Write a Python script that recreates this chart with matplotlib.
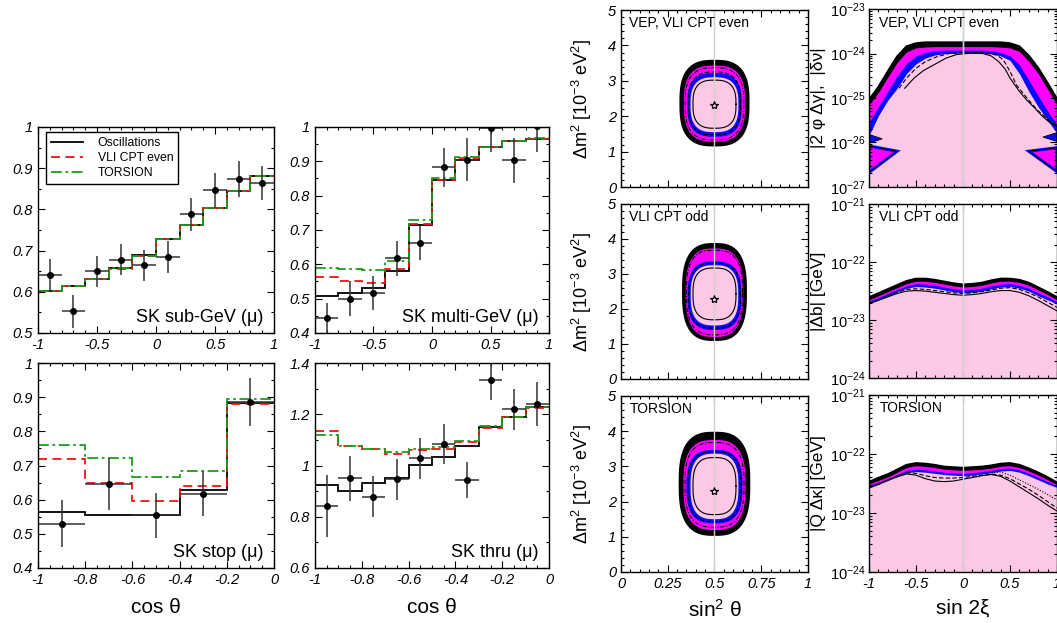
import numpy as np
import matplotlib
matplotlib.use("Agg")
import matplotlib.pyplot as plt
from matplotlib.lines import Line2D
from matplotlib.ticker import MultipleLocator, LogLocator, FuncFormatter, NullFormatter

plt.rcParams["font.family"] = ["Liberation Sans", "DejaVu Sans"]
plt.rcParams["mathtext.fontset"] = "custom"
plt.rcParams["mathtext.rm"] = "Liberation Sans"
plt.rcParams["mathtext.it"] = "Liberation Sans:italic"
plt.rcParams["axes.linewidth"] = 1.0

red = "#f01414"
green = "#1c9c1c"
magenta = "#ff00ff"
blue = "#0a0aff"
pink = "#fcc8e6"
gray = "#d0d0d0"

# ---------------- zenith angle distributions ----------------
edges_full = [-1.0, -0.8, -0.6, -0.4, -0.2, 0.0, 0.2, 0.4, 0.6, 0.8, 1.0]
centers_full = [-0.9, -0.7, -0.5, -0.3, -0.1, 0.1, 0.3, 0.5, 0.7, 0.9]

subgev_osc = [0.602, 0.613, 0.632, 0.657, 0.689, 0.727, 0.763, 0.804, 0.844, 0.881]
subgev_vli = [0.602, 0.613, 0.631, 0.656, 0.687, 0.727, 0.763, 0.804, 0.844, 0.882]
subgev_tor = [0.602, 0.613, 0.632, 0.657, 0.688, 0.727, 0.763, 0.804, 0.844, 0.882]
subgev_data = [0.640, 0.553, 0.650, 0.678, 0.664, 0.684, 0.788, 0.846, 0.873, 0.864]
subgev_err = [0.040, 0.040, 0.038, 0.038, 0.038, 0.039, 0.040, 0.043, 0.044, 0.042]

multigev_osc = [0.509, 0.517, 0.530, 0.580, 0.715, 0.845, 0.905, 0.942, 0.958, 0.965]
multigev_vli = [0.563, 0.550, 0.545, 0.587, 0.717, 0.847, 0.909, 0.942, 0.958, 0.965]
multigev_tor = [0.590, 0.585, 0.582, 0.609, 0.729, 0.850, 0.912, 0.943, 0.958, 0.967]
multigev_data = [0.443, 0.500, 0.517, 0.618, 0.662, 0.882, 0.905, 0.998, 0.903, 1.002]
multigev_err = [0.045, 0.050, 0.049, 0.051, 0.050, 0.057, 0.062, 0.070, 0.066, 0.075]

edges_stop = [-1.0, -0.8, -0.6, -0.4, -0.2, 0.0]
centers_stop = [-0.9, -0.7, -0.5, -0.3, -0.1]
stop_osc = [0.563, 0.556, 0.554, 0.629, 0.883]
stop_vli = [0.720, 0.649, 0.597, 0.641, 0.881]
stop_tor = [0.761, 0.721, 0.667, 0.683, 0.895]
stop_data = [0.530, 0.646, 0.554, 0.618, 0.886]
stop_err = [0.070, 0.075, 0.066, 0.065, 0.070]

edges_thru = [-1.0, -0.9, -0.8, -0.7, -0.6, -0.5, -0.4, -0.3, -0.2, -0.1, 0.0]
centers_thru = [-0.95, -0.85, -0.75, -0.65, -0.55, -0.45, -0.35, -0.25, -0.15, -0.05]
thru_osc = [0.924, 0.902, 0.933, 0.953, 1.002, 1.034, 1.076, 1.151, 1.190, 1.229]
thru_vli = [1.134, 1.076, 1.063, 1.043, 1.060, 1.064, 1.090, 1.147, 1.190, 1.226]
thru_tor = [1.119, 1.078, 1.065, 1.052, 1.065, 1.073, 1.097, 1.154, 1.190, 1.229]
thru_data = [0.842, 0.950, 0.879, 0.947, 1.028, 1.084, 0.944, 1.335, 1.220, 1.240]
thru_err = [0.120, 0.087, 0.080, 0.080, 0.080, 0.077, 0.070, 0.080, 0.080, 0.085]

# ---------------- allowed regions in (sin^2 theta, dm^2) ----------------
# filled levels: black, magenta, blue, pink (left edge, bottom, top)
vep_fill_left = [0.317, 0.336, 0.354, 0.372]
vep_fill_bottom = [1.17, 1.28, 1.42, 1.55]
vep_fill_top = [3.57, 3.43, 3.22, 3.10]
odd_fill_left = [0.331, 0.346, 0.356, 0.373]
odd_fill_bottom = [1.11, 1.20, 1.40, 1.53]
odd_fill_top = [3.86, 3.73, 3.36, 3.25]
tor_fill_left = [0.313, 0.334, 0.350, 0.372]
tor_fill_bottom = [1.05, 1.19, 1.38, 1.50]
tor_fill_top = [3.96, 3.75, 3.47, 3.36]
# line contours: dotted, dash-dot, dashed, solid
vep_line_left = [0.328, 0.343, 0.360, 0.385]
vep_line_bottom = [1.24, 1.33, 1.47, 1.66]
vep_line_top = [3.50, 3.37, 3.25, 3.02]
odd_line_left = [0.338, 0.350, 0.362, 0.385]
odd_line_bottom = [1.16, 1.26, 1.45, 1.69]
odd_line_top = [3.80, 3.68, 3.31, 3.17]
tor_line_left = [0.323, 0.342, 0.357, 0.385]
tor_line_bottom = [1.12, 1.27, 1.43, 1.63]
tor_line_top = [3.86, 3.68, 3.42, 3.25]
best_fit_s2 = [0.5, 0.5, 0.5]
best_fit_dm2 = [2.33, 2.28, 2.30]

# ---------------- bounds vs sin 2xi (log10 values) ----------------
xi = [-1.0, -0.9, -0.8, -0.7, -0.6, -0.5, -0.4, -0.3, -0.2, -0.1, 0.0,
      0.1, 0.2, 0.3, 0.4, 0.5, 0.6, 0.7, 0.8, 0.9, 1.0]

vep_black = [-25.05, -24.76, -24.41, -24.07, -23.84, -23.77, -23.75, -23.75, -23.75, -23.75, -23.75,
             -23.75, -23.75, -23.75, -23.75, -23.77, -23.84, -24.05, -24.33, -24.67, -25.03]
vep_magenta = [-25.15, -24.88, -24.53, -24.20, -23.96, -23.87, -23.85, -23.84, -23.84, -23.84, -23.84,
               -23.84, -23.84, -23.84, -23.85, -23.87, -23.95, -24.17, -24.45, -24.80, -25.15]
vep_blue = [-25.55, -25.20, -24.85, -24.50, -24.22, -24.05, -23.97, -23.93, -23.92, -23.92, -23.92,
            -23.92, -23.92, -23.93, -23.97, -24.05, -24.25, -24.60, -24.95, -25.30, -25.60]
vep_pink = [-25.85, -25.40, -25.05, -24.78, -24.45, -24.23, -24.10, -24.03, -24.00, -23.99, -23.98,
            -23.98, -23.99, -24.00, -24.05, -24.15, -24.45, -24.85, -25.20, -25.50, -25.80]
vep_solid_x = [-0.62, -0.52, -0.42, -0.30, -0.18, -0.07, 0.07, 0.20, 0.30, 0.38, 0.45, 0.50,
               0.60, 0.68, 0.76, 0.84, 0.92, 1.00]
vep_solid = [-24.78, -24.55, -24.38, -24.24, -24.10, -24.02, -23.99, -23.99, -24.05, -24.18, -24.35,
             -24.55, -24.85, -25.05, -25.22, -25.40, -25.55, -25.65]
vep_dashed_x = [-0.68, -0.60, -0.50, -0.40, -0.28, -0.14, 0.00, 0.22, 0.36, 0.43, 0.50, 0.57,
                0.68, 0.79, 0.90, 1.00]
vep_dashed = [-24.78, -24.55, -24.33, -24.18, -24.07, -23.99, -23.98, -23.98, -24.03, -24.14, -24.40,
              -24.71, -25.00, -25.27, -25.48, -25.62]
# spikes and islands near |sin 2xi| = 1
spike_left_x = [-1.0, -0.86, -1.0]
spike_left_y = [-25.82, -25.92, -26.02]
island_left_x = [-1.0, -0.70, -1.0]
island_left_y = [-26.08, -26.20, -26.68]
spike_right_x = [1.0, 0.85, 1.0]
spike_right_y = [-25.78, -25.88, -25.98]
island_right_x = [1.0, 0.70, 1.0]
island_right_y = [-26.12, -26.20, -26.66]

odd_black = [-22.61, -22.54, -22.47, -22.40, -22.33, -22.29, -22.29, -22.31, -22.34, -22.37, -22.39,
             -22.38, -22.36, -22.32, -22.29, -22.29, -22.31, -22.36, -22.44, -22.52, -22.61]
odd_magenta = [-22.65, -22.58, -22.51, -22.44, -22.37, -22.33, -22.33, -22.35, -22.38, -22.41, -22.43,
               -22.42, -22.40, -22.36, -22.33, -22.33, -22.35, -22.40, -22.48, -22.56, -22.65]
odd_blue = [-22.67, -22.61, -22.54, -22.47, -22.41, -22.37, -22.38, -22.40, -22.43, -22.46, -22.48,
            -22.47, -22.45, -22.41, -22.38, -22.37, -22.40, -22.45, -22.53, -22.60, -22.68]
odd_pink = [-22.70, -22.64, -22.58, -22.51, -22.45, -22.42, -22.43, -22.45, -22.48, -22.51, -22.53,
            -22.52, -22.50, -22.46, -22.43, -22.42, -22.45, -22.50, -22.58, -22.65, -22.72]
odd_solid = [-22.72, -22.66, -22.60, -22.54, -22.50, -22.49, -22.50, -22.52, -22.54, -22.56, -22.57,
             -22.56, -22.54, -22.51, -22.49, -22.49, -22.52, -22.58, -22.66, -22.75, -22.84]
odd_dashed = [-22.71, -22.65, -22.58, -22.52, -22.47, -22.46, -22.47, -22.49, -22.51, -22.53, -22.54,
              -22.53, -22.51, -22.48, -22.45, -22.44, -22.47, -22.53, -22.60, -22.69, -22.78]

tor_black = [-22.48, -22.41, -22.35, -22.27, -22.19, -22.16, -22.17, -22.19, -22.22, -22.23, -22.24,
             -22.23, -22.22, -22.20, -22.17, -22.16, -22.19, -22.25, -22.32, -22.40, -22.49]
tor_magenta = [-22.51, -22.45, -22.39, -22.31, -22.23, -22.20, -22.21, -22.23, -22.26, -22.27, -22.28,
               -22.27, -22.26, -22.24, -22.21, -22.20, -22.23, -22.29, -22.36, -22.44, -22.52]
tor_blue = [-22.53, -22.48, -22.42, -22.35, -22.28, -22.26, -22.27, -22.29, -22.31, -22.32, -22.33,
            -22.32, -22.30, -22.28, -22.25, -22.24, -22.27, -22.33, -22.40, -22.47, -22.54]
tor_pink = [-22.56, -22.51, -22.45, -22.38, -22.32, -22.30, -22.31, -22.33, -22.35, -22.36, -22.37,
            -22.36, -22.34, -22.32, -22.29, -22.28, -22.31, -22.37, -22.44, -22.51, -22.57]
tor_solid = [-22.58, -22.52, -22.45, -22.39, -22.34, -22.36, -22.42, -22.46, -22.47, -22.46, -22.43,
             -22.40, -22.37, -22.35, -22.38, -22.46, -22.56, -22.66, -22.76, -22.87, -22.97]
tor_dashed = [-22.57, -22.51, -22.44, -22.37, -22.32, -22.33, -22.37, -22.40, -22.41, -22.41, -22.40,
              -22.38, -22.36, -22.34, -22.36, -22.42, -22.51, -22.60, -22.70, -22.81, -22.92]
tor_dotted_x = [0.3, 0.4, 0.5, 0.6, 0.7, 0.8, 0.9, 1.0]
tor_dotted = [-22.32, -22.31, -22.36, -22.44, -22.52, -22.60, -22.69, -22.78]


fig = plt.figure(figsize=(10.57, 6.23), dpi=100)
gfmt = FuncFormatter(lambda v, p: "%g" % round(v, 3))


def style(ax, size=10.5):
    ax.tick_params(which="both", direction="in", top=True, right=True)
    ax.tick_params(which="major", length=5, width=0.8, labelsize=size)
    ax.tick_params(which="minor", length=2.5, width=0.8)
    for lab in ax.get_xticklabels() + ax.get_yticklabels():
        lab.set_fontstyle("italic")


def zenith(rect, edges, osc, vli, tor, xc, yd, ye, hw, ylim, xmaj, xmin, ymaj, ymin, label):
    ax = fig.add_axes(rect)
    ax.stairs(osc, edges, baseline=None, color="black", lw=1.3)
    ax.stairs(vli, edges, baseline=None, color=red, lw=1.3, ls=(0, (5, 3)))
    ax.stairs(tor, edges, baseline=None, color=green, lw=1.3, ls=(0, (6, 2, 1.5, 2)))
    ax.errorbar(xc, yd, xerr=hw, yerr=ye, fmt="o", ms=4, color="black",
                ecolor="#333333", elinewidth=1.1, capsize=0)
    ax.set_xlim(edges[0], edges[-1])
    ax.set_ylim(*ylim)
    ax.xaxis.set_major_locator(MultipleLocator(xmaj))
    ax.xaxis.set_minor_locator(MultipleLocator(xmin))
    ax.yaxis.set_major_locator(MultipleLocator(ymaj))
    ax.yaxis.set_minor_locator(MultipleLocator(ymin))
    ax.xaxis.set_major_formatter(gfmt)
    ax.yaxis.set_major_formatter(gfmt)
    ax.text(0.955, 0.035, label, transform=ax.transAxes, ha="right", va="bottom", fontsize=13)
    style(ax)
    return ax


ax1 = zenith([0.036, 0.4655, 0.2233, 0.3307], edges_full, subgev_osc, subgev_vli, subgev_tor,
             centers_full, subgev_data, subgev_err, 0.1, (0.5, 1.0), 0.5, 0.1, 0.1, 0.05,
             "SK sub-GeV (\u03bc)")
leg_handles = [Line2D([], [], color="black", lw=1.3),
               Line2D([], [], color=red, lw=1.3, ls=(0, (5, 3))),
               Line2D([], [], color=green, lw=1.3, ls=(0, (6, 2, 1.5, 2)))]
ax1.legend(leg_handles, ["Oscillations", "VLI CPT even", "TORSION"], loc="upper left",
           bbox_to_anchor=(0.035, 0.975), fontsize=8.8, frameon=True, fancybox=False,
           edgecolor="black", framealpha=1, borderpad=0.4, labelspacing=0.25,
           handlelength=2.6, handletextpad=1.2, borderaxespad=0)
zenith([0.298, 0.4655, 0.2214, 0.3307], edges_full, multigev_osc, multigev_vli, multigev_tor,
       centers_full, multigev_data, multigev_err, 0.1, (0.4, 1.0), 0.5, 0.1, 0.1, 0.05,
       "SK multi-GeV (\u03bc)")
ax3 = zenith([0.036, 0.0883, 0.2233, 0.329], edges_stop, stop_osc, stop_vli, stop_tor,
             centers_stop, stop_data, stop_err, 0.1, (0.4, 1.0), 0.2, 0.05, 0.1, 0.05,
             "SK stop (\u03bc)")
ax4 = zenith([0.298, 0.0883, 0.2214, 0.329], edges_thru, thru_osc, thru_vli, thru_tor,
             centers_thru, thru_data, thru_err, 0.05, (0.6, 1.4), 0.2, 0.05, 0.2, 0.1,
             "SK thru (\u03bc)")
for ax in (ax3, ax4):
    ax.set_xlabel("cos \u03b8", fontsize=15, labelpad=8)


def squircle(x0, x1, y0, y1, p=2.8, n=300):
    t = np.linspace(0, 2 * np.pi, n)
    c, s = np.cos(t), np.sin(t)
    xs = 0.5 * (x0 + x1) + 0.5 * (x1 - x0) * np.sign(c) * np.abs(c) ** (2 / p)
    ys = 0.5 * (y0 + y1) + 0.5 * (y1 - y0) * np.sign(s) * np.abs(s) ** (2 / p)
    return xs, ys


def contour_panel(rect, fl, fb, ft, ll, lb, lt, bx, by, label, bottom):
    ax = fig.add_axes(rect)
    for k, col in enumerate(["black", magenta, blue, pink]):
        xs, ys = squircle(fl[k], 1 - fl[k], fb[k], ft[k])
        ax.fill(xs, ys, facecolor=col, edgecolor="black" if k == 0 else col,
                lw=1.2 if k == 0 else 0)
    for k, ls in enumerate([(0, (1, 1.5)), (0, (4, 1.5, 1, 1.5)), (0, (4, 2)), "-"]):
        xs, ys = squircle(ll[k], 1 - ll[k], lb[k], lt[k])
        ax.plot(xs, ys, color="black", lw=0.8, ls=ls)
    ax.axvline(0.5, color=gray, lw=1.0)
    ax.plot([bx], [by], marker="*", ms=6, mfc=pink, mec="black", mew=0.9, ls="none")
    ax.set_xlim(0, 1)
    ax.set_ylim(0, 5)
    ax.xaxis.set_major_locator(MultipleLocator(0.25))
    ax.xaxis.set_minor_locator(MultipleLocator(0.05))
    ax.yaxis.set_major_locator(MultipleLocator(1))
    ax.yaxis.set_minor_locator(MultipleLocator(0.2))
    ax.xaxis.set_major_formatter(gfmt)
    ax.yaxis.set_major_formatter(gfmt)
    if not bottom:
        ax.xaxis.set_major_formatter(NullFormatter())
    ax.set_ylabel("\u0394m$^{2}$ [10$^{-3}$ eV$^{2}$]", fontsize=13)
    ax.yaxis.set_label_coords(-0.145, 0.5)
    ax.text(0.045, 0.965, label, transform=ax.transAxes, ha="left", va="top", fontsize=10)
    style(ax, 10.5)
    return ax


contour_panel([0.5875, 0.6998, 0.1769, 0.2841], vep_fill_left, vep_fill_bottom, vep_fill_top,
              vep_line_left, vep_line_bottom, vep_line_top, best_fit_s2[0], best_fit_dm2[0],
              "VEP, VLI CPT even", False)
contour_panel([0.5875, 0.3917, 0.1769, 0.2809], odd_fill_left, odd_fill_bottom, odd_fill_top,
              odd_line_left, odd_line_bottom, odd_line_top, best_fit_s2[1], best_fit_dm2[1],
              "VLI CPT odd", False)
axm = contour_panel([0.5875, 0.0819, 0.1769, 0.2825], tor_fill_left, tor_fill_bottom, tor_fill_top,
                    tor_line_left, tor_line_bottom, tor_line_top, best_fit_s2[2], best_fit_dm2[2],
                    "TORSION", True)
axm.set_xlabel("sin$^{2}$ \u03b8", fontsize=15, labelpad=6)

logfmt = FuncFormatter(lambda v, p: r"$\mathit{10^{%d}}$" % int(round(np.log10(v))))


def bound_panel(rect, levels, lines, ylim, label, ylabel, bottom):
    ax = fig.add_axes(rect)
    ax.set_yscale("log")
    lo = 10.0 ** ylim[0]
    for arr, col in zip(levels, ["black", magenta, blue, pink]):
        ax.fill_between(xi, np.power(10.0, arr), lo, color=col, lw=0)
    ax.plot(xi, np.power(10.0, levels[0]), color="black", lw=1.8)
    for lx, ly, ls in lines:
        ax.plot(lx, np.power(10.0, ly), color="black", lw=0.8, ls=ls)
    ax.axvline(0, color=gray, lw=1.0)
    ax.set_xlim(-1, 1)
    ax.set_ylim(10.0 ** ylim[0], 10.0 ** ylim[1])
    ax.xaxis.set_major_locator(MultipleLocator(0.5))
    ax.xaxis.set_minor_locator(MultipleLocator(0.1))
    ax.yaxis.set_major_locator(LogLocator(base=10))
    ax.yaxis.set_minor_locator(LogLocator(base=10, subs=np.arange(2, 10)))
    ax.yaxis.set_major_formatter(logfmt)
    ax.yaxis.set_minor_formatter(NullFormatter())
    ax.xaxis.set_major_formatter(gfmt if bottom else NullFormatter())
    ax.set_ylabel(ylabel, fontsize=12.5)
    ax.yaxis.set_label_coords(-0.228, 0.5)
    ax.text(0.055, 0.965, label, transform=ax.transAxes, ha="left", va="top", fontsize=10)
    style(ax, 10.5)
    ax.tick_params(axis="y", which="major", pad=2.5)
    return ax


axr1 = bound_panel([0.8221, 0.7003, 0.1779, 0.2847], [vep_black, vep_magenta, vep_blue, vep_pink],
                   [(vep_solid_x, vep_solid, "-"), (vep_dashed_x, vep_dashed, (0, (4, 2)))],
                   (-27, -23), "VEP, VLI CPT even", "|2 \u03c6 \u0394\u03b3|,  |\u03b4\u03bd|", False)
for sx, sy in ((spike_left_x, spike_left_y), (spike_right_x, spike_right_y)):
    axr1.fill(sx, np.power(10.0, sy), facecolor=blue, edgecolor="black", lw=0.6)
for sx, sy in ((island_left_x, island_left_y), (island_right_x, island_right_y)):
    axr1.fill(sx, np.power(10.0, sy), facecolor=magenta, edgecolor=blue, lw=2.2)
    axr1.fill(sx, np.power(10.0, sy), facecolor="none", edgecolor="black", lw=0.6)
axr1.axvline(0, color=gray, lw=1.0)

bound_panel([0.8221, 0.3928, 0.1779, 0.2798], [odd_black, odd_magenta, odd_blue, odd_pink],
            [(xi, odd_solid, "-"), (xi, odd_dashed, (0, (4, 2)))],
            (-24, -21), "VLI CPT odd", "|\u0394b| [GeV]", False)
axr3 = bound_panel([0.8221, 0.0823, 0.1779, 0.2836], [tor_black, tor_magenta, tor_blue, tor_pink],
                   [(xi, tor_solid, "-"), (xi, tor_dashed, (0, (4, 2))),
                    (tor_dotted_x, tor_dotted, (0, (1, 1.5)))],
                   (-24, -21), "TORSION", "|Q \u0394\u03ba| [GeV]", True)
axr3.set_xlabel("sin 2\u03be", fontsize=15, labelpad=6)
for lab in axr3.get_xticklabels():
    lab.set_fontstyle("italic")

fig.savefig("out.png", dpi=100)
